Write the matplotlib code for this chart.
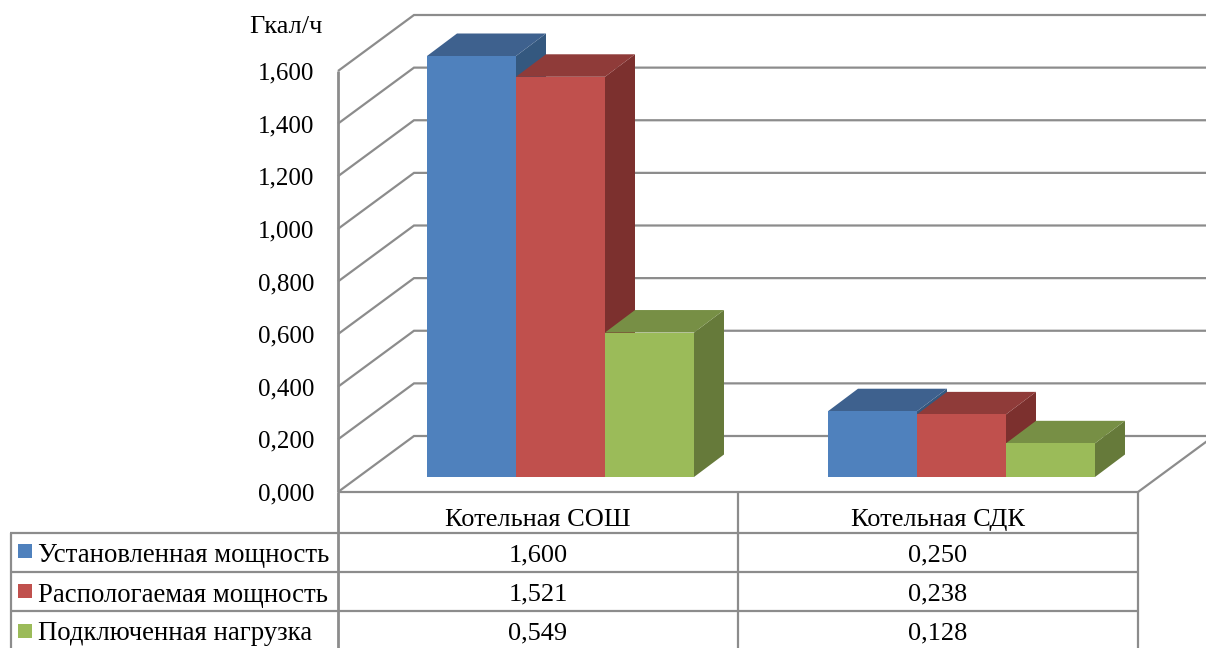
import matplotlib
matplotlib.use("Agg")
import matplotlib.pyplot as plt
from matplotlib.patches import Polygon, Rectangle

plt.rcParams['font.family'] = ['Liberation Serif', 'DejaVu Serif']
plt.rcParams['lines.solid_capstyle'] = 'butt'

# Данные
categories = ['Котельная СОШ', 'Котельная СДК']
series_names = ['Установленная мощность', 'Распологаемая мощность', 'Подключенная нагрузка']
installed = [1.600, 0.250]
available = [1.521, 0.238]
connected = [0.549, 0.128]
series_values = [installed, available, connected]
y_ticks = [0.0, 0.2, 0.4, 0.6, 0.8, 1.0, 1.2, 1.4, 1.6]
y_unit = 'Гкал/ч'

# цвета: перед, верх, бок
front_colors = ['#4F81BD', '#C0504D', '#9BBB59']
top_colors = ['#3E618E', '#8F3B39', '#778F45']
side_colors = ['#34587F', '#7C302E', '#667A3A']
line_color = '#8C8C8C'

W, H = 1206, 648
fig = plt.figure(figsize=(W / 100, H / 100), dpi=100)

# основная ось: x 338..1138, y 492..71 пикселей
ax = fig.add_axes([338 / W, 1 - 492 / H, 800 / W, 421 / H])
ax.set_xlim(0, 2)
ax.set_ylim(0, 1.6)
ax.patch.set_visible(False)
for s in ax.spines.values():
    s.set_visible(False)
ax.set_xticks([])
ax.set_yticks(y_ticks)
ax.set_yticklabels([f'{v:.3f}'.replace('.', ',') for v in y_ticks], fontsize=18, color='black')
ax.tick_params(axis='y', length=0, pad=17)

# глубина "3D" в единицах осей
px_x = 2 / 800
px_y = 1.6 / 421
wall_dx = 76 * px_x
wall_dy = 56 * px_y
bar_dx = 30 * px_x
bar_dy = 22.5 * px_y
bar_w = 89 * px_x
bar_base = 15 * px_y
group_shift = 22.5 * px_x
group_step = 401 * px_x

# сетка и стенки
x_end = 2.2
for v in y_ticks:
    ax.plot([0, wall_dx, x_end], [v, v + wall_dy, v + wall_dy], color=line_color, lw=1.6,
            clip_on=False, zorder=1, solid_joinstyle='miter')
ax.plot([0, 0], [0, 1.6], color=line_color, lw=2, clip_on=False, zorder=1)
ax.plot([0, 2, x_end], [0, 0, (x_end - 2) / wall_dx * wall_dy], color=line_color, lw=1.6, clip_on=False, zorder=1)

# столбцы
for g in range(len(categories)):
    left0 = g * group_step + 0.5 + group_shift - 1.5 * bar_w
    for i, vals in enumerate(series_values):
        x0 = left0 + i * bar_w
        x1 = x0 + bar_w
        top = bar_base + vals[g]
        z = 3 + i * 0.1
        ax.add_patch(Polygon([(x1, bar_base), (x1 + bar_dx, bar_base + bar_dy), (x1 + bar_dx, top + bar_dy), (x1, top)],
                             facecolor=side_colors[i], edgecolor='none', clip_on=False, zorder=z))
        ax.add_patch(Polygon([(x0, top), (x0 + bar_dx, top + bar_dy), (x1 + bar_dx, top + bar_dy), (x1, top)],
                             facecolor=top_colors[i], edgecolor='none', clip_on=False, zorder=z))
        ax.bar(x0, vals[g], width=bar_w, bottom=bar_base, align='edge', color=front_colors[i],
               clip_on=False, zorder=z + 0.01)

# наложенная ось в пикселях для таблицы и подписи
ov = fig.add_axes([0, 0, 1, 1])
ov.set_xlim(0, W)
ov.set_ylim(H, 0)
ov.axis('off')
ov.patch.set_visible(False)

ov.text(286, 27, y_unit, ha='center', va='center', fontsize=19, color='black')

row_lines = [533, 572, 611]
row_centers = [555, 594, 633]
swatch_tops = [544, 584, 624]
for y in row_lines:
    ov.plot([10, 1138], [y, y], color=line_color, lw=1.6)
ov.plot([338, 338], [492, 648], color=line_color, lw=2)
ov.plot([738, 738], [492, 648], color=line_color, lw=1.6)
ov.plot([1138, 1138], [492, 648], color=line_color, lw=1.6)
ov.plot([10.5, 10.5], [533, 648], color=line_color, lw=1.6)

col_centers = [538, 938]
for c, name in zip(col_centers, categories):
    ov.text(c, 520, name, ha='center', va='center', fontsize=19, color='black')

for i, name in enumerate(series_names):
    yc = row_centers[i]
    ov.add_patch(Rectangle((18, swatch_tops[i]), 14, 14, facecolor=front_colors[i], edgecolor='none'))
    ov.text(38, yc + 1, name, ha='left', va='center', fontsize=19.3, color='black')
    for c, v in zip(col_centers, series_values[i]):
        ov.text(c, yc, f'{v:.3f}'.replace('.', ','), ha='center', va='center', fontsize=19, color='black')

fig.savefig('out.png', dpi=100)
